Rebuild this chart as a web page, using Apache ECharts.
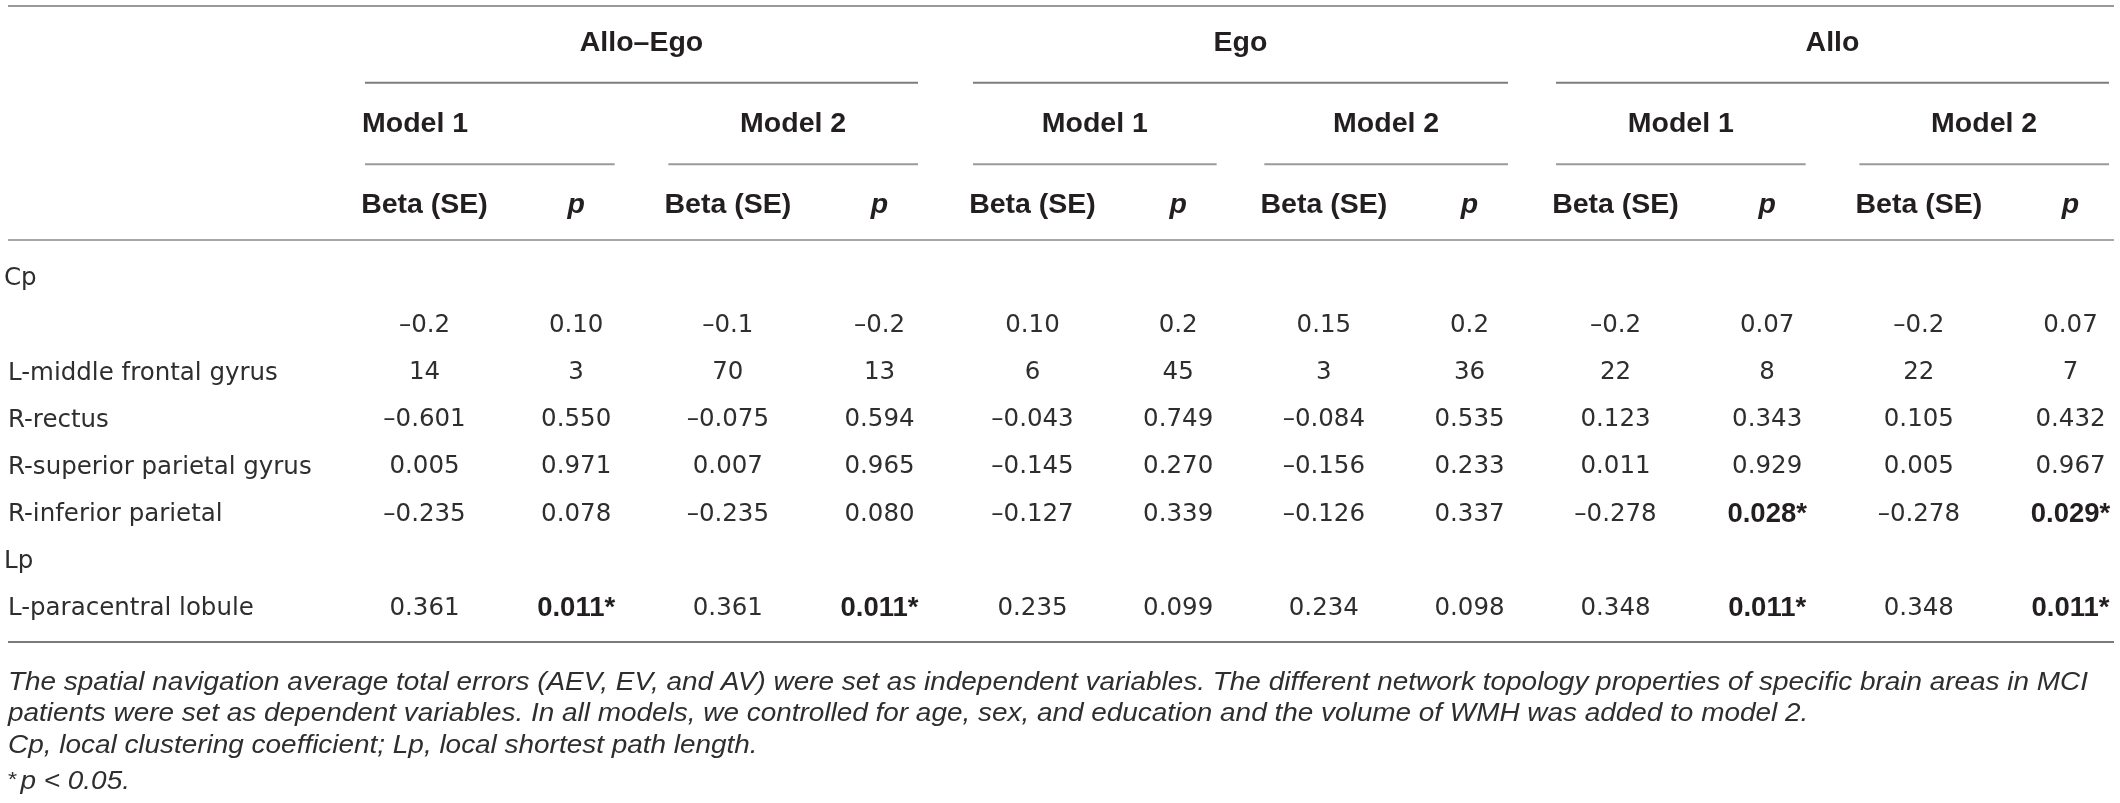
<!DOCTYPE html>
<html>
<head>
<meta charset="utf-8">
<script src="https://cdn.jsdelivr.net/npm/echarts@6/dist/echarts.min.js"></script>
<style>
html,body{margin:0;padding:0;background:#ffffff;}
#c{width:2120px;height:803px;}
</style>
</head>
<body>
<div id="c"></div>
<script>
// ---------------- DATA ----------------
const groups = ['Allo–Ego', 'Ego', 'Allo'];
const models = ['Model 1', 'Model 2'];
const statCols = ['Beta (SE)', 'p', 'Beta (SE)', 'p'];
const headerRows = ['group', 'model', 'stat'];
const rowLabels = ['Cp', '', 'L-middle frontal gyrus', 'R-rectus', 'R-superior parietal gyrus', 'R-inferior parietal', 'Lp', 'L-paracentral lobule'];
const sectionLabels = ['Cp', 'Lp'];

const valuesCpUnlabelled      = ['–0.2', '0.10', '–0.1', '–0.2', '0.10', '0.2', '0.15', '0.2', '–0.2', '0.07', '–0.2', '0.07'];
const valuesLMiddleFrontal    = ['14', '3', '70', '13', '6', '45', '3', '36', '22', '8', '22', '7'];
const valuesRRectus           = ['–0.601', '0.550', '–0.075', '0.594', '–0.043', '0.749', '–0.084', '0.535', '0.123', '0.343', '0.105', '0.432'];
const valuesRSuperiorParietal = ['0.005', '0.971', '0.007', '0.965', '–0.145', '0.270', '–0.156', '0.233', '0.011', '0.929', '0.005', '0.967'];
const valuesRInferiorParietal = ['–0.235', '0.078', '–0.235', '0.080', '–0.127', '0.339', '–0.126', '0.337', '–0.278', '0.028*', '–0.278', '0.029*'];
const valuesLParacentral      = ['0.361', '0.011*', '0.361', '0.011*', '0.235', '0.099', '0.234', '0.098', '0.348', '0.011*', '0.348', '0.011*'];
const tableRows = [null, valuesCpUnlabelled, valuesLMiddleFrontal, valuesRRectus, valuesRSuperiorParietal, valuesRInferiorParietal, null, valuesLParacentral];

const footnoteLines = [
  'The spatial navigation average total errors (AEV, EV, and AV) were set as independent variables. The different network topology properties of specific brain areas in MCI',
  'patients were set as dependent variables. In all models, we controlled for age, sex, and education and the volume of WMH was added to model 2.',
  'Cp, local clustering coefficient; Lp, local shortest path length.'
];
const sigFootnote = ['*', 'p < 0.05.'];

// ---------------- STYLE / LAYOUT ----------------
const TEXT = '#231f20';
const BODY_COLOR = '#2e2e2e';
const BODY_FONT = 'DejaVu Sans';
const HEAD_FONT = 'Liberation Sans';
const BODY_SIZE = 24.5;
const HEAD_SIZE = 28.5;
const groupSpans = [[425, 2120 - 880], [1033, 2120 - 1470], [1616, 2120 - 2071]]; // grid left, right
const HEADER_TOP = 43, HEADER_BOTTOM = 803 - 206;
const DATA_TOP = 277, DATA_BOTTOM = 803 - 607;

const chart = echarts.init(document.getElementById('c'), null, {renderer: 'canvas'});

const grid = [], xAxis = [], yAxis = [], series = [];
const n = groups.length;

groups.forEach((g, gi) => {
  const [l, r] = groupSpans[gi];
  grid.push({left: l, right: r, top: HEADER_TOP, bottom: HEADER_BOTTOM, containLabel: false});
});
groups.forEach((g, gi) => {
  const [l, r] = groupSpans[gi];
  grid.push({left: l, right: r, top: DATA_TOP, bottom: DATA_BOTTOM, containLabel: false});
});

for (let k = 0; k < 2 * n; k++) {
  xAxis.push({gridIndex: k, type: 'category', data: statCols, boundaryGap: false, show: false});
}
groups.forEach((g, gi) => {
  yAxis.push({gridIndex: gi, type: 'category', data: headerRows, inverse: true, boundaryGap: false, show: false});
});
groups.forEach((g, gi) => {
  yAxis.push({
    gridIndex: n + gi, type: 'category', data: rowLabels, inverse: true, boundaryGap: false,
    show: gi === 0,
    axisLine: {show: false}, axisTick: {show: false}, splitLine: {show: false},
    axisLabel: {
      show: gi === 0, interval: 0, margin: 421, align: 'left',
      formatter: v => sectionLabels.indexOf(v) >= 0 ? '{s|' + v + '}' : '{r|' + v + '}',
      rich: {
        s: {fontFamily: BODY_FONT, fontSize: BODY_SIZE, color: BODY_COLOR, padding: [4, 0, 0, 0]},
        r: {fontFamily: BODY_FONT, fontSize: BODY_SIZE, color: BODY_COLOR, padding: [4, 0, 0, 4]}
      }
    }
  });
});

const cellItemStyle = {color: 'rgba(0,0,0,0)', opacity: 1};

// header stat labels (Beta (SE) / p)
groups.forEach((g, gi) => {
  series.push({
    type: 'scatter', xAxisIndex: gi, yAxisIndex: gi, silent: true, symbolSize: 1,
    itemStyle: cellItemStyle, emphasis: {disabled: true},
    data: statCols.map((s, i) => ({value: [i, 2], txt: s})),
    label: {
      show: true, position: [0, 0], align: 'center', verticalAlign: 'middle', opacity: 1, color: TEXT,
      formatter: p => p.data.txt === 'p' ? '{i|p}' : '{b|' + p.data.txt + '}',
      rich: {
        b: {fontFamily: HEAD_FONT, fontSize: HEAD_SIZE, fontWeight: 'bold', color: TEXT},
        i: {fontFamily: HEAD_FONT, fontSize: HEAD_SIZE, fontWeight: 'bold', fontStyle: 'italic', color: TEXT}
      }
    }
  });
});

// body cells
groups.forEach((g, gi) => {
  const data = [];
  tableRows.forEach((row, ri) => {
    if (!row) return;
    row.slice(gi * 4, gi * 4 + 4).forEach((v, ci) => {
      if (v !== '') data.push({value: [ci, ri], txt: v});
    });
  });
  series.push({
    type: 'scatter', xAxisIndex: n + gi, yAxisIndex: n + gi, silent: true, symbolSize: 1,
    itemStyle: cellItemStyle, emphasis: {disabled: true},
    data: data,
    label: {
      show: true, position: [0, 0], align: 'center', verticalAlign: 'middle', opacity: 1, color: BODY_COLOR,
      offset: [0, 2],
      formatter: p => /\*$/.test(p.data.txt) ? '{b|' + p.data.txt + '}' : '{n|' + p.data.txt + '}',
      rich: {
        n: {fontFamily: BODY_FONT, fontSize: BODY_SIZE, color: BODY_COLOR},
        b: {fontFamily: HEAD_FONT, fontSize: HEAD_SIZE - 1, fontWeight: 'bold', color: TEXT}
      }
    }
  });
});

chart.setOption({animation: false, backgroundColor: '#ffffff', grid, xAxis, yAxis, series});

// ---------------- RULES & SPANNING HEADERS (from axis scales) ----------------
const PAD_L = 60, PAD_R = 38;
const colPx = (gi, c) => chart.convertToPixel({xAxisIndex: gi}, c);
const headY = r => chart.convertToPixel({yAxisIndex: 0}, r);
const dataY = r => chart.convertToPixel({yAxisIndex: n}, r);

const graphic = [];
const hline = (x1, x2, y, color, w) => graphic.push({
  type: 'line', silent: true,
  shape: {x1: x1, y1: y, x2: x2, y2: y},
  style: {stroke: color, lineWidth: w}
});
const text = (x, y, str, font, align, fill, extra) => graphic.push(Object.assign({
  type: 'text', silent: true, x: x, y: y,
  style: {text: str, font: font, fill: fill, align: align, verticalAlign: 'middle', textAlign: align, textVerticalAlign: 'middle'}
}, extra || {}));

const headFont = 'bold ' + HEAD_SIZE + 'px "' + HEAD_FONT + '"';
const tableLeft = 8;
const tableRight = colPx(n - 1, 3) + 43;

const yTopRule = headY(0) - 37;
const yGroupRule = (headY(0) + headY(1)) / 2 - 1;
const yModelRule = (headY(1) + headY(2)) / 2 - 1;
const yHeadRule = dataY(0) - 37;
const yBottomRule = dataY(rowLabels.length - 1) + 35;

hline(tableLeft, tableRight, yTopRule, '#9a9a9a', 2);
hline(tableLeft, tableRight, yHeadRule, '#a8a8a8', 2);
hline(tableLeft, tableRight, yBottomRule, '#7a7a7a', 2);

groups.forEach((g, gi) => {
  const gx1 = colPx(gi, 0) - PAD_L, gx2 = colPx(gi, 3) + PAD_R;
  hline(gx1, gx2, yGroupRule, '#7d7d7d', 2);
  text((gx1 + gx2) / 2, headY(0), g, headFont, 'center', TEXT);
  models.forEach((m, mi) => {
    const mx1 = colPx(gi, mi * 2) - PAD_L, mx2 = colPx(gi, mi * 2 + 1) + PAD_R;
    hline(mx1, mx2, yModelRule, '#9a9a9a', 2);
    if (gi === 0 && mi === 0) text(mx1 - 3, headY(1), m, headFont, 'left', TEXT);
    else text((mx1 + mx2) / 2, headY(1), m, headFont, 'center', TEXT);
  });
});

// footnotes (italic), stretched to match the printed width
const FOOT_SIZE = 25;
const FOOT_FONT = 'Liberation Sans';
const footFont = 'italic ' + FOOT_SIZE + 'px "' + FOOT_FONT + '"';
const ctx = document.createElement('canvas').getContext('2d');
ctx.font = footFont;
const footScale = 2080 / ctx.measureText(footnoteLines[0]).width;
const footY = [yBottomRule + 41, yBottomRule + 72, yBottomRule + 104, yBottomRule + 140];
footnoteLines.forEach((t, i) => {
  text(tableLeft, footY[i], t, footFont, 'left', BODY_COLOR, {scaleX: footScale, originX: 0});
});
graphic.push({
  type: 'text', silent: true, x: tableLeft, y: footY[3], scaleX: footScale,
  style: {
    text: '{s|' + sigFootnote[0] + '}{i|' + sigFootnote[1] + '}',
    align: 'left', verticalAlign: 'middle',
    rich: {
      s: {fontFamily: FOOT_FONT, fontSize: 21, fill: BODY_COLOR, verticalAlign: 'top', padding: [0, 3, 0, 0]},
      i: {fontFamily: FOOT_FONT, fontStyle: 'italic', fontSize: FOOT_SIZE, fill: BODY_COLOR}
    }
  }
});

chart.setOption({graphic: graphic});
</script>
</body>
</html>
